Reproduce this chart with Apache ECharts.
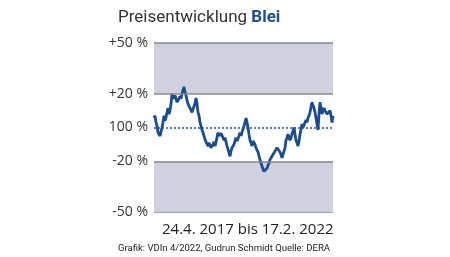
<!DOCTYPE html>
<html><head><meta charset="utf-8">
<script src="https://cdn.jsdelivr.net/npm/echarts@6/dist/echarts.min.js"></script>
<style>html,body{margin:0;padding:0;background:#fff}#c{width:450px;height:257px}</style>
</head><body><div id="c"></div>
<script>
// Price development of lead, % change vs. start (24.4.2017 .. 17.2.2022), evenly spaced samples
const values = [
  5.6,7,3,1,-3,-2,-5,-6,0,3,7,4,6,9,11.5,8,10,14,20,
  17,16,19,18.5,15,15,17,18.5,17,20,22,24,21,19,16,14,15,11.5,12,9,11,10,14,17.5,14,9,7,3,1,-1.5,-3,-5,-7,-8.5,-9,-11,-9,-10,-12,-11.5,-10,-8.5,-11,-10,-6,-3,-5,-6,-3.5,-4,-6,-7.5,-6,-8.5,-11,-13,-15,-17,-14,-12,-13,-10,-8,-6,-8,-7.5,-5,-3,-5,-4,-1,1,3,5.6,3,0,-4,-7.5,-9,-11,-8,-8.5,-10,-12,-13,-14.5,-17,-19,-21,-23,-24,-26,-25,-25,-24,-23,-21,-19,-20,-18,-16,-15.5,-14,-13,-12,-11,-13,-14.5,-16,-18,-19,-17,-12,-7.5,-6,-4,-6,-7.5,-6,-5,-2,0,-4,-7.5,-9,-11,-8,-4,-1,2,0,1,3,4.4,3,5.6,7,9,12,15,13,11.5,9,5.6,2,-1.5,8,15,12,8,10,11.5,10,9,8,7,9,10,7,3,7
];
const categories = values.map((_, i) => String(i));
const tickValues = [-50, -20, 0, 20, 50];
const tickLabels = {'-50': '-50 %', '-20': '-20 %', '0': '100 %', '20': '+20 %', '50': '+50 %'};
const titleMain = 'Preisentwicklung ';
const titleMetal = 'Blei';
const periodText = '24.4. 2017 bis 17.2. 2022';
const sourceText = 'Grafik: VDIn 4/2022, Gudrun Schmidt Quelle: DERA';

const chart = echarts.init(document.getElementById('c'));
chart.setOption({
  animation: false,
  title: {
    text: '{a|' + titleMain + '}{b|' + titleMetal + '}',
    left: 113, top: 4,
    textStyle: { rich: {
      a: { fontFamily: 'Roboto', fontSize: 17, fontWeight: 'normal', color: '#333' },
      b: { fontFamily: 'Roboto', fontSize: 17, fontWeight: 'bold', color: '#1f4e8c' }
    }}
  },
  graphic: [
    { type: 'text', left: 162, top: 222, style: { text: periodText, font: '15px "Open Sans"', fill: '#222' } },
    { type: 'text', left: 118, top: 244, style: { text: sourceText, font: '9.5px Roboto', fill: '#222' } }
  ],
  grid: { left: 154, right: 117, top: 43, bottom: 45 },
  xAxis: { type: 'category', data: categories, boundaryGap: false, show: false },
  yAxis: {
    type: 'value', min: -50, max: 50,
    axisLine: { show: false }, axisTick: { show: false }, splitLine: { show: false },
    axisLabel: {
      customValues: tickValues, margin: 6,
      fontFamily: 'Open Sans', fontSize: 14,
      formatter: v => tickLabels[String(v)],
      color: v => (v === 0 ? '#2a5a9a' : '#333')
    }
  },
  series: [{
    type: 'line', data: values, showSymbol: false,
    lineStyle: { color: '#1b4d8c', width: 2.8 },
    markArea: {
      silent: true,
      itemStyle: { color: '#d0d1de' },
      data: [
        [{ yAxis: 20 }, { yAxis: 50 }],
        [{ yAxis: -50 }, { yAxis: -20 }]
      ]
    },
    markLine: {
      silent: true, symbol: 'none', label: { show: false },
      data: [
        { yAxis: 50, lineStyle: { color: '#8a8a8a', width: 1.5, type: 'solid' } },
        { yAxis: 20, lineStyle: { color: '#8a8a8a', width: 1.5, type: 'solid' } },
        { yAxis: -20, lineStyle: { color: '#8a8a8a', width: 1.5, type: 'solid' } },
        { yAxis: -50, lineStyle: { color: '#a0a0a0', width: 1, type: 'solid' } },
        { yAxis: 0, lineStyle: { color: '#2a5a9a', width: 1.5, type: [2, 2] } }
      ]
    }
  }]
});
</script></body></html>
